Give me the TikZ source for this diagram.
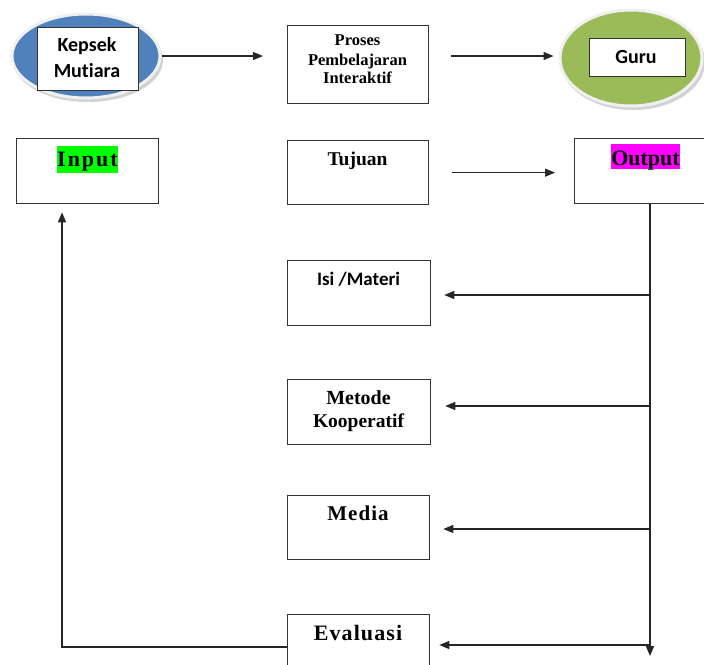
\documentclass[tikz,border=0pt]{standalone}
\usepackage{fontspec}
\setmainfont{Liberation Serif}
\newfontfamily\calfont{Carlito}[Ligatures=NoCommon]
\newfontfamily\serifsp{Liberation Serif}[LetterSpace=9]
\newfontfamily\serifspb{Liberation Serif}[LetterSpace=5]
\usetikzlibrary{shapes.geometric,arrows.meta}
\definecolor{eblue}{HTML}{4F81BD}
\definecolor{egreen}{HTML}{9BBB59}
\definecolor{hlgreen}{HTML}{00FF00}
\definecolor{hlmag}{HTML}{FF00FF}
\begin{document}
\begin{tikzpicture}[x=1pt,y=-1pt,
  box/.style={draw=black!80,line width=1.3pt,fill=white,anchor=north west,inner sep=0pt},
  arr/.style={draw=black!85,line width=1.2pt,-{Triangle[length=10pt,width=8pt]}},
  txt/.style={anchor=base,inner sep=0pt},
  eshadow/.style={fill=gray!35},
  oval/.style={ellipse,draw=gray!12,line width=3pt,inner sep=0pt},
  sanst/.style={txt,font=\calfont\bfseries\fontsize{20}{22}\selectfont},
  sert/.style={txt,font=\bfseries\fontsize{19.5}{22}\selectfont}]
\useasboundingbox (0,0) rectangle (704,664);

% ellipses
\fill[eshadow] (88,60) ellipse [x radius=75, y radius=42];
\node[oval,fill=eblue,minimum width=148pt,minimum height=84pt] (kepE) at (86,56) {};
\fill[eshadow] (633,62) ellipse [x radius=72, y radius=48];
\node[oval,fill=egreen,minimum width=142pt,minimum height=96pt] (guruE) at (631,58) {};

% boxes
\node[box,minimum width=101pt,minimum height=63pt] (kepB) at (37,27) {};
\node[sanst] (kepT1) at (87,51) {Kepsek};
\node[sanst] (kepT2) at (87,77) {Mutiara};

\node[box,minimum width=96pt,minimum height=38pt] (guruB) at (589,38) {};
\node[sanst] (guruT) at (636,63) {Guru};

\node[box,minimum width=141pt,minimum height=78pt] (proses) at (287,25) {};
\node[txt,font=\bfseries\fontsize{16.5}{19}\selectfont] (pr1) at (357.5,45) {Proses};
\node[txt,font=\bfseries\fontsize{16.5}{19}\selectfont] (pr2) at (357.5,65) {Pembelajaran};
\node[txt,font=\bfseries\fontsize{16.5}{19}\selectfont] (pr3) at (357.5,83) {Interaktif};

\node[box,minimum width=142pt,minimum height=65pt] (inp) at (16,138) {};
\node[txt,fill=hlgreen,inner xsep=0.5pt,text height=21pt,text depth=6pt,font=\serifsp\bfseries\fontsize{22}{24}\selectfont] (inpT) at (87.5,166.7) {Input};

\node[box,minimum width=141pt,minimum height=64pt] (tuj) at (287,140) {};
\node[sert] (tujT) at (357.5,165) {Tujuan};

\node[box,minimum width=143pt,minimum height=65pt] (out) at (574,138) {};
\node[txt,fill=hlmag,inner xsep=0.5pt,text height=21pt,text depth=4pt,font=\bfseries\fontsize{22}{24}\selectfont] (outT) at (645.5,165) {Output};

\node[box,minimum width=143pt,minimum height=65pt] (isi) at (287,260) {};
\node[sanst,font=\calfont\bfseries\fontsize{19}{22}\selectfont] (isiT) at (358.5,285) {Isi /Materi};

\node[box,minimum width=143pt,minimum height=65pt] (met) at (287,379) {};
\node[sert,font=\bfseries\fontsize{20}{22}\selectfont] (metT1) at (358.5,404) {Metode};
\node[sert] (metT2) at (358.5,427) {Kooperatif};

\node[box,minimum width=142pt,minimum height=64pt] (med) at (287,495) {};
\node[txt,font=\serifspb\bfseries\fontsize{21}{24}\selectfont] (medT) at (358,520.7) {Media};

\node[box,minimum width=142pt,minimum height=70pt] (eva) at (287,614) {};
\node[txt,font=\serifspb\bfseries\fontsize{22}{24}\selectfont] (evaT) at (358,640) {Evaluasi};

% connectors
\draw[arr,shorten >=24pt] (kepE.east) -- (kepE.east -| proses.west);
\draw[arr,shorten <=22pt,shorten >=5pt] (proses.east |- kepE.east) -- (guruE.west |- kepE.east);
\draw[arr,shorten <=23pt,shorten >=19pt] (tuj.east) -- (tuj.east -| out.west);

\coordinate (vBot) at (650,656);
\draw[arr] (out.south -| vBot) -- (vBot);
\coordinate (b1) at (650,295);
\coordinate (b2) at (650,406);
\coordinate (b3) at (650,529);
\coordinate (b4) at (650,645);
\draw[arr,shorten >=13pt] (b1) -- (b1 -| isi.east);
\draw[arr,shorten >=14pt] (b2) -- (b2 -| met.east);
\draw[arr,shorten >=13pt] (b3) -- (b3 -| med.east);
\draw[arr,shorten >=9pt] (b4) -- (b4 -| eva.east);

\coordinate (fb) at (62,647);
\draw[arr,shorten >=8pt] (eva.west |- fb) -- (fb) -- (fb |- inp.south);
\end{tikzpicture}
\end{document}
